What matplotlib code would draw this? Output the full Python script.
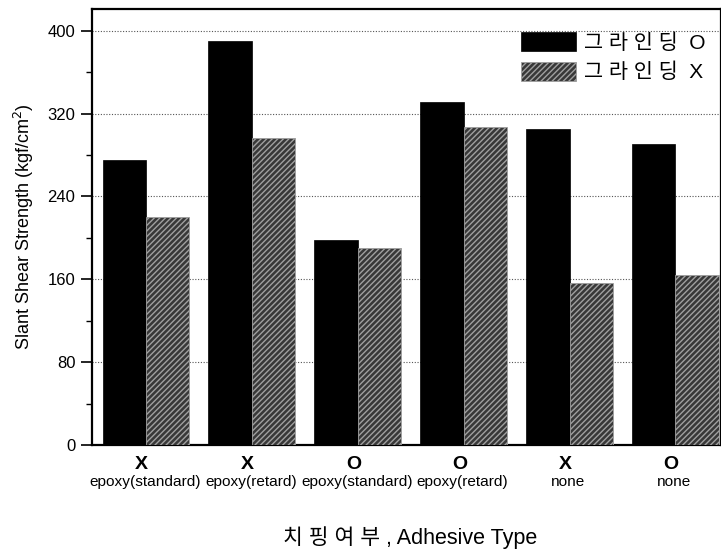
import matplotlib
matplotlib.use("Agg")
import matplotlib.pyplot as plt
import numpy as np

plt.rcParams['font.family'] = ['Liberation Sans', 'Noto Sans CJK KR', 'DejaVu Sans']
plt.rcParams['hatch.linewidth'] = 1.0

chipping = ['X', 'X', 'O', 'O', 'X', 'O']
adhesive = ['epoxy(standard)', 'epoxy(retard)', 'epoxy(standard)', 'epoxy(retard)', 'none', 'none']
grinding_o = [275, 390, 198, 331, 305, 291]
grinding_x = [220, 296, 190, 307, 156, 164]
series_labels = ['그 라 인 딩  O', '그 라 인 딩  X']
y_ticks = [0, 80, 160, 240, 320, 400]

fig = plt.figure(figsize=(7.21, 5.49), dpi=100)
ax = fig.add_axes([0.1276, 0.1894, 0.8724, 0.7942])

x = np.arange(len(chipping))
w = 0.41
ax.bar(x - w / 2, grinding_o, w, color='black', edgecolor='black', linewidth=0.5,
       label=series_labels[0], zorder=3)
ax.bar(x + w / 2, grinding_x, w, color='#383838', edgecolor='#a0a0a0', hatch='//////',
       linewidth=0.6, label=series_labels[1], zorder=3)

ax.set_xlim(-0.51, 5.43)
ax.set_ylim(0, 421)
ax.set_yticks(y_ticks)
ax.set_yticks(np.arange(40, 420, 80), minor=True)
ax.tick_params(axis='y', which='major', direction='out', length=8, width=1.2, labelsize=12, pad=4)
ax.tick_params(axis='y', which='minor', direction='out', length=4, width=1.0)
ax.set_xticks([])
ax.yaxis.grid(True, which='major', linestyle=(0, (1, 1.5)), color='#555555', linewidth=0.8, zorder=0)
for s in ax.spines.values():
    s.set_linewidth(1.6)

trans = ax.get_xaxis_transform()
for xi, c, a in zip(x, chipping, adhesive):
    ax.text(xi - 0.04, -0.025, c, transform=trans, ha='center', va='top',
            fontsize=14, fontweight='bold')
    ax.text(xi - 0.01, -0.068, a, transform=trans, ha='center', va='top', fontsize=11.1)

ax.set_ylabel('Slant Shear Strength (kgf/cm$^2$)', fontsize=13, labelpad=8)
fig.text(0.569, 0.0, '치 핑 여 부 , Adhesive Type', ha='center', va='bottom', fontsize=15.5)

leg = ax.legend(loc='upper right', bbox_to_anchor=(1.005, 0.99), frameon=False, fontsize=15,
                handlelength=2.6, handleheight=1.0, handletextpad=0.4, labelspacing=0.45)

fig.savefig('out.png', dpi=100)
